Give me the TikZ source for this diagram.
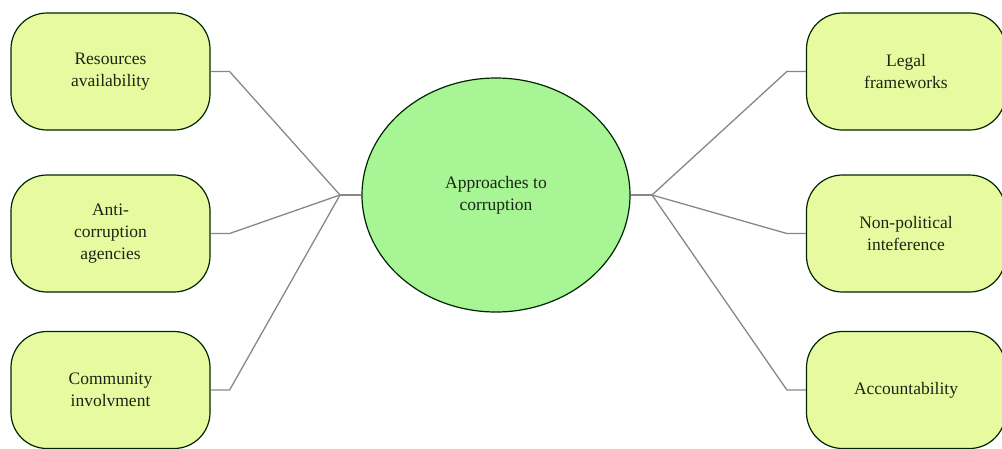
\documentclass[tikz,border=0pt]{standalone}
\usepackage{fontspec}
\setmainfont{Liberation Serif}
\usetikzlibrary{shapes.geometric}
\definecolor{boxfill}{RGB}{232,250,160}
\definecolor{ellfill}{RGB}{168,245,150}
\definecolor{linegray}{RGB}{135,135,135}
\definecolor{txt}{RGB}{25,40,20}
\begin{document}
\begin{tikzpicture}[x=1pt,y=-1pt,
  topic/.style={draw=black!85!green, line width=1.2pt, fill=boxfill, rounded corners=36pt,
    minimum width=199pt, minimum height=117pt, align=center, inner sep=0pt, text=txt,
    font=\fontsize{17.5}{22}\selectfont},
  hub/.style={draw=black!85!green, line width=1.2pt, fill=ellfill, ellipse,
    minimum width=268pt, minimum height=234pt, inner sep=0pt, align=center, text=txt,
    font=\fontsize{17.5}{22}\selectfont},
  link/.style={draw=linegray, line width=1.3pt}]
\path[use as bounding box] (0,0) rectangle (1002,448);
\node[hub] (c) at (496,195) {Approaches to\\corruption};
\node[topic] (l1) at (110.5,71.5) {Resources\\availability};
\node[topic] (l2) at (110.5,233.5) {Anti-\\corruption\\agencies};
\node[topic] (l3) at (110.5,390) {Community\\involvment};
\node[topic] (r1) at (906,71.5) {Legal\\frameworks};
\node[topic] (r2) at (906,233.5) {Non-political\\inteference};
\node[topic] (r3) at (906,390) {Accountability};
\coordinate (jl) at (340,195);
\coordinate (jr) at (652,195);
\draw[link] (c.west) -- (jl);
\draw[link] (c.east) -- (jr);
\draw[link] (l1.east) -- ++(19,0) -- (jl);
\draw[link] (l2.east) -- ++(19,0) -- (jl);
\draw[link] (l3.east) -- ++(19,0) -- (jl);
\draw[link] (r1.west) -- ++(-19,0) -- (jr);
\draw[link] (r2.west) -- ++(-19,0) -- (jr);
\draw[link] (r3.west) -- ++(-19,0) -- (jr);
\end{tikzpicture}
\end{document}
